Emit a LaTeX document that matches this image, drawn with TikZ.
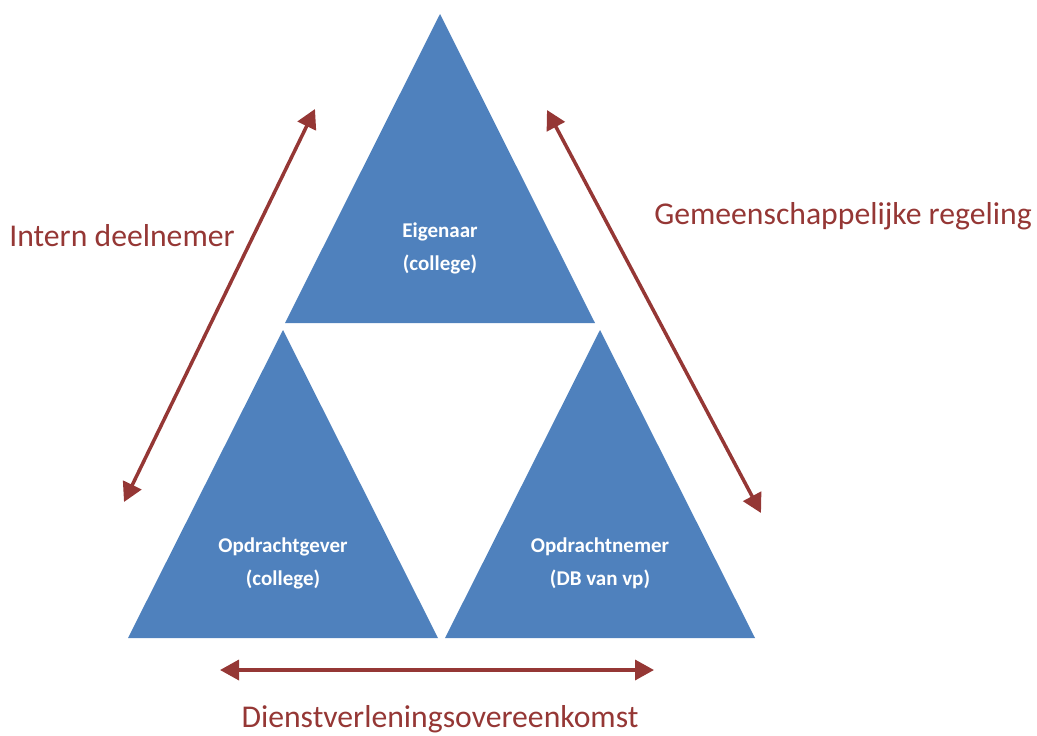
\documentclass[tikz,border=0pt]{standalone}
\usepackage{fontspec}
\setmainfont{Carlito}
\usetikzlibrary{arrows.meta}
\definecolor{triblue}{RGB}{79,129,189}
\definecolor{relred}{RGB}{149,55,53}

\begin{document}
\begin{tikzpicture}[x=1pt,y=-1pt,>={Triangle[length=19pt,width=20pt]},
  tri/.style={fill=triblue},
  role/.style={text=white,font=\fontsize{21}{33}\selectfont\bfseries,align=center},
  rel/.style={<->,draw=relred,line width=3.5pt},
  lab/.style={text=relred,font=\fontsize{31.7}{36}\selectfont}]
\useasboundingbox (0,0) rectangle (1037,736);
% the three triangles
\fill[tri] (440,14) -- (595,323) -- (285,323) -- cycle;
\fill[tri] (283,330) -- (438,638) -- (128,638) -- cycle;
\fill[tri] (600,330) -- (755,638) -- (445,638) -- cycle;
\node[role] (owner) at (440,248) {Eigenaar\\(college)};
\node[role] (client) at (283,563) {Opdrachtgever\\(college)};
\node[role] (contractor) at (600,563) {Opdrachtnemer\\(DB van vp)};
% relations
\coordinate (l1) at (124,502);
\coordinate (l2) at (315,109);
\coordinate (r1) at (547,110);
\coordinate (r2) at (761,513);
\coordinate (b1) at (220,670);
\coordinate (b2) at (654,670);
\draw[rel] (l1) -- (l2);
\draw[rel] (r1) -- (r2);
\draw[rel] (b1) -- (b2);
\node[lab] (intern) at (122,236) {Intern deelnemer};
\node[lab] (gr) at (843,216) {Gemeenschappelijke regeling};
\node[lab] (dvo) at (440,719) {Dienstverleningsovereenkomst};
\end{tikzpicture}
\end{document}
